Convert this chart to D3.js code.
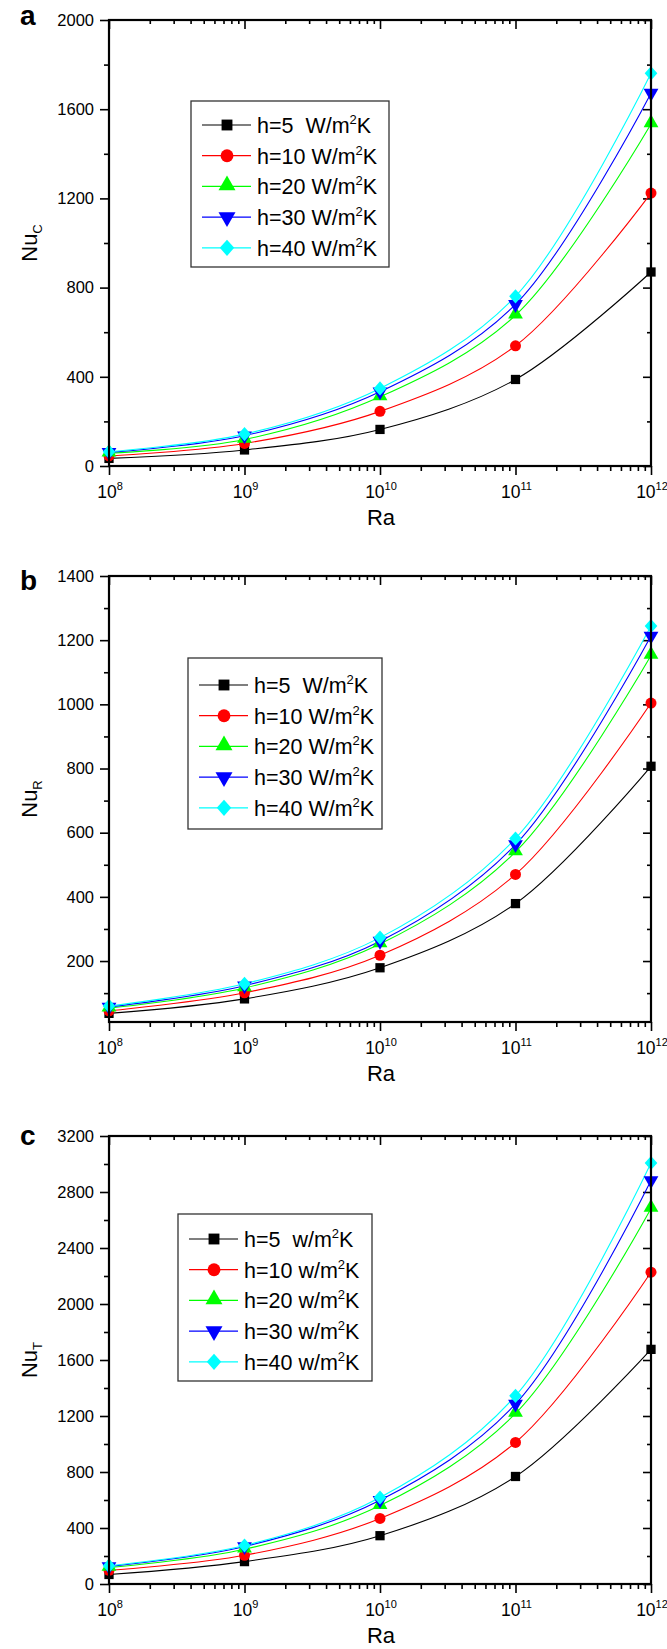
<!DOCTYPE html>
<html><head><meta charset="utf-8">
<script src="https://cdn.jsdelivr.net/npm/d3@7"></script>
<style>
html,body{margin:0;padding:0;background:#fff;}
svg{display:block;font-family:"Liberation Sans",Arial,Helvetica,sans-serif;}
</style></head>
<body><svg id="chart" width="667" height="1649"></svg>
<script>
// ---------- data ----------
const raValues = [1e8, 1e9, 1e10, 1e11, 1e12];
const xTickExponents = [8, 9, 10, 11, 12];
const hValues = [5, 10, 20, 30, 40];
const seriesColors = ["#000000", "#ff0000", "#00ff00", "#0000ff", "#00ffff"];
const seriesSymbols = ["square", "circle", "triangle", "triangleDown", "diamond"];

// Panel a: Nu_C
const nuC_h5  = [34, 72, 164, 388, 870];
const nuC_h10 = [45, 101, 245, 539, 1224];
const nuC_h20 = [57, 119, 310, 676, 1534];
const nuC_h30 = [61, 136, 333, 725, 1672];
const nuC_h40 = [64, 143, 348, 761, 1761];
// Panel b: Nu_R
const nuR_h5  = [37, 82, 179, 379, 807];
const nuR_h10 = [45, 101, 218, 470, 1004];
const nuR_h20 = [53, 116, 253, 540, 1152];
const nuR_h30 = [57, 123, 262, 563, 1213];
const nuR_h40 = [60, 129, 273, 582, 1244];
// Panel c: Nu_T
const nuT_h5  = [68, 160, 345, 768, 1676];
const nuT_h10 = [98, 205, 468, 1011, 2227];
const nuT_h20 = [118, 248, 560, 1218, 2682];
const nuT_h30 = [125, 268, 598, 1286, 2882];
const nuT_h40 = [130, 275, 618, 1344, 3007];

const yTicksC = [0, 400, 800, 1200, 1600, 2000];
const yMinorC = [200, 600, 1000, 1400, 1800];
const yTicksR = [200, 400, 600, 800, 1000, 1200, 1400];
const yMinorR = [100, 300, 500, 700, 900, 1100, 1300];
const yTicksT = [0, 400, 800, 1200, 1600, 2000, 2400, 2800, 3200];
const yMinorT = [200, 600, 1000, 1400, 1800, 2200, 2600, 3000];

const panelLetters = ["a", "b", "c"];
const yLabelSubs = ["C", "R", "T"];
const legendUnits = ["W", "W", "w"];
const xLabel = "Ra";

// ---------- layout ----------
const panels = [
  {letter: panelLetters[0], sub: yLabelSubs[0], unit: legendUnits[0],
   series: [nuC_h5, nuC_h10, nuC_h20, nuC_h30, nuC_h40],
   domain: [0, 2000], ticks: yTicksC, minor: yMinorC,
   top: 20, bottom: 466, letterY: 25, legend: {x: 191, y: 101, w: 198, h: 166, first: 24}},
  {letter: panelLetters[1], sub: yLabelSubs[1], unit: legendUnits[1],
   series: [nuR_h5, nuR_h10, nuR_h20, nuR_h30, nuR_h40],
   domain: [10, 1400], ticks: yTicksR, minor: yMinorR,
   top: 576, bottom: 1022, letterY: 590, legend: {x: 188, y: 658, w: 194, h: 171, first: 27}},
  {letter: panelLetters[2], sub: yLabelSubs[2], unit: legendUnits[2],
   series: [nuT_h5, nuT_h10, nuT_h20, nuT_h30, nuT_h40],
   domain: [0, 3200], ticks: yTicksT, minor: yMinorT,
   top: 1136, bottom: 1584, letterY: 1145, legend: {x: 178, y: 1214, w: 194, h: 167, first: 25}}
];
const left = 109, right = 651;

const svg = d3.select("#chart");

const x = d3.scaleLog().domain([1e8, 1e12]).range([left, right]);
const xMinor = [];
for (let e = 8; e < 12; e++) for (let m = 2; m <= 9; m++) xMinor.push(m * Math.pow(10, e));

function symbolPath(kind, size) {
  if (kind === "square") return d3.symbol(d3.symbolSquare, size)();
  if (kind === "circle") return d3.symbol(d3.symbolCircle, size)();
  if (kind === "triangle" || kind === "triangleDown") return d3.symbol(d3.symbolTriangle, size)();
  if (kind === "diamond") return d3.symbol(d3.symbolSquare, size)();
  return d3.symbol(d3.symbolCircle, size)();
}
function symbolTransform(kind, cx, cy) {
  if (kind === "triangleDown") return `translate(${cx},${cy}) rotate(180)`;
  if (kind === "diamond") return `translate(${cx},${cy}) scale(1,1.12) rotate(45)`;
  if (kind === "triangle") return `translate(${cx},${cy - 1})`;
  return `translate(${cx},${cy})`;
}
const markerSize = {square: 86, circle: 95, triangle: 95, triangleDown: 95, diamond: 80};
const legendMarkerSize = {square: 118, circle: 130, triangle: 125, triangleDown: 125, diamond: 105};

panels.forEach((p, pi) => {
  const y = d3.scaleLinear().domain(p.domain).range([p.bottom, p.top]);
  const g = svg.append("g");

  const styleTicks = a => a.selectAll("line").attr("stroke", "#000").attr("stroke-width", 1.6);

  // bottom axis (outward)
  g.append("g").attr("transform", `translate(0,${p.bottom})`)
    .call(d3.axisBottom(x).tickValues(raValues).tickSize(9).tickFormat(""))
    .call(a => a.select(".domain").remove()).call(styleTicks);
  g.append("g").attr("transform", `translate(0,${p.bottom})`)
    .call(d3.axisBottom(x).tickValues(xMinor).tickSize(5).tickFormat(""))
    .call(a => a.select(".domain").remove()).call(styleTicks);
  // top axis (inward)
  g.append("g").attr("transform", `translate(0,${p.top})`)
    .call(d3.axisTop(x).tickValues(raValues).tickSize(-9).tickFormat(""))
    .call(a => a.select(".domain").remove()).call(styleTicks);
  g.append("g").attr("transform", `translate(0,${p.top})`)
    .call(d3.axisTop(x).tickValues(xMinor).tickSize(-4).tickFormat(""))
    .call(a => a.select(".domain").remove()).call(styleTicks);
  // left axis (outward)
  g.append("g").attr("transform", `translate(${left},0)`)
    .call(d3.axisLeft(y).tickValues(p.ticks).tickSize(9).tickPadding(6).tickFormat(d3.format("d")))
    .call(a => a.select(".domain").remove()).call(styleTicks)
    .call(a => a.selectAll("text").attr("font-size", 16.5).attr("fill", "#000")
      .attr("font-family", "'Liberation Sans',Arial,sans-serif"));
  g.append("g").attr("transform", `translate(${left},0)`)
    .call(d3.axisLeft(y).tickValues(p.minor).tickSize(5).tickFormat(""))
    .call(a => a.select(".domain").remove()).call(styleTicks);
  // right axis (inward)
  g.append("g").attr("transform", `translate(${right},0)`)
    .call(d3.axisRight(y).tickValues(p.ticks).tickSize(-8).tickFormat(""))
    .call(a => a.select(".domain").remove()).call(styleTicks);
  g.append("g").attr("transform", `translate(${right},0)`)
    .call(d3.axisRight(y).tickValues(p.minor).tickSize(-4).tickFormat(""))
    .call(a => a.select(".domain").remove()).call(styleTicks);

  // x tick labels 10^n
  raValues.forEach((v, i) => {
    const t = g.append("text").attr("x", x(v) + 1).attr("y", p.bottom + 32)
      .attr("text-anchor", "middle").attr("font-size", 17.5).attr("fill", "#000");
    t.append("tspan").text("10");
    t.append("tspan").attr("font-size", 11).attr("dy", -8).text(String(xTickExponents[i]));
  });

  // curves
  const line = d3.line().x(d => x(d[0])).y(d => y(d[1])).curve(d3.curveCatmullRom.alpha(0.5));
  p.series.forEach((s, si) => {
    const pts = raValues.map((r, i) => [r, s[i]]);
    g.append("path").attr("d", line(pts)).attr("fill", "none")
      .attr("stroke", seriesColors[si]).attr("stroke-width", 1.1);
  });
  // markers
  p.series.forEach((s, si) => {
    const kind = seriesSymbols[si];
    raValues.forEach((r, i) => {
      g.append("path").attr("d", symbolPath(kind, markerSize[kind]))
        .attr("transform", symbolTransform(kind, x(r), y(s[i])))
        .attr("fill", seriesColors[si]);
    });
  });

  // frame
  g.append("rect").attr("x", left).attr("y", p.top).attr("width", right - left)
    .attr("height", p.bottom - p.top).attr("fill", "none").attr("stroke", "#000").attr("stroke-width", 2.2);

  // y label
  const cy = (p.top + p.bottom) / 2;
  const yl = g.append("text").attr("transform", `translate(37,${cy}) rotate(-90)`)
    .attr("text-anchor", "middle").attr("font-size", 22).attr("fill", "#000");
  yl.append("tspan").text("Nu");
  yl.append("tspan").attr("font-size", 13).attr("dy", 5).text(p.sub);

  // x label
  g.append("text").attr("x", (left + right) / 2 + 1).attr("y", p.bottom + 59)
    .attr("text-anchor", "middle").attr("font-size", 22).attr("fill", "#000").text(xLabel);

  // panel letter
  g.append("text").attr("x", 20).attr("y", p.letterY).attr("font-size", 28)
    .attr("font-weight", "bold").attr("fill", "#000").text(p.letter);

  // legend
  const L = p.legend;
  const lg = g.append("g");
  lg.append("rect").attr("x", L.x).attr("y", L.y).attr("width", L.w).attr("height", L.h)
    .attr("fill", "#fff").attr("stroke", "#333").attr("stroke-width", 1.3);
  hValues.forEach((h, si) => {
    const ry = L.y + L.first + si * 30.7;
    const kind = seriesSymbols[si];
    lg.append("line").attr("x1", L.x + 11).attr("x2", L.x + 60).attr("y1", ry).attr("y2", ry)
      .attr("stroke", seriesColors[si]).attr("stroke-width", 1.2);
    lg.append("path").attr("d", symbolPath(kind, legendMarkerSize[kind]))
      .attr("transform", symbolTransform(kind, L.x + 36, ry)).attr("fill", seriesColors[si]);
    const t = lg.append("text").attr("x", L.x + 66).attr("y", ry + 8)
      .attr("font-size", 21.5).attr("fill", "#000").attr("xml:space", "preserve")
      .style("white-space", "pre");
    const head = h < 10 ? `h=${h}  ${p.unit}/m` : `h=${h} ${p.unit}/m`;
    t.append("tspan").text(head);
    t.append("tspan").attr("font-size", 13).attr("dy", -9).text("2");
    t.append("tspan").attr("dy", 9).text("K");
  });
});
</script>
</body></html>
